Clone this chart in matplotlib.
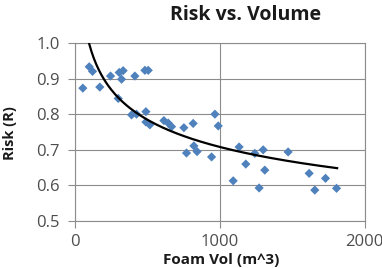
import numpy as np
import matplotlib
matplotlib.use('Agg')
import matplotlib.pyplot as plt

# foam volume (m^3) and risk readings
foam_vol = [55, 99, 122, 172, 246, 306, 333, 322, 414, 483, 506,
            299, 391, 425, 490, 490, 517, 614, 644, 667, 752, 816,
            966, 989, 770, 821, 843, 943, 1092, 1133, 1179, 1241,
            1271, 1299, 1310, 1471, 1616, 1655, 1729, 1805]
risk = [0.873, 0.933, 0.920, 0.876, 0.907, 0.917, 0.922, 0.898, 0.907, 0.923, 0.923,
        0.844, 0.798, 0.800, 0.807, 0.778, 0.770, 0.782, 0.775, 0.765, 0.762, 0.774,
        0.800, 0.767, 0.691, 0.711, 0.695, 0.680, 0.613, 0.708, 0.660, 0.690,
        0.593, 0.700, 0.643, 0.694, 0.634, 0.587, 0.620, 0.592]

# power trendline R = a * V^b (as shown on the chart)
trend_a = 1.968
trend_b = -0.148
trend_range = [97, 1809]

plt.rcParams['font.family'] = ['Open Sans', 'DejaVu Sans']

fig = plt.figure(figsize=(3.82, 2.68), dpi=100)
ax = fig.add_axes([0.196, 0.175, 0.759, 0.665])

grid_col = '#8c8c8c'
ax.scatter(foam_vol, risk, marker='D', s=22, color='#4f81bd', edgecolors='none', zorder=3)

xs = np.linspace(trend_range[0], trend_range[1], 200)
ax.plot(xs, trend_a * xs ** trend_b, color='black', lw=1.6, zorder=4)

ax.set_xlim(0, 2000)
ax.set_ylim(0.5, 1.0)
ax.set_xticks([0, 1000, 2000])
ax.set_yticks([0.5, 0.6, 0.7, 0.8, 0.9, 1.0])
ax.set_yticklabels(['0.5', '0.6', '0.7', '0.8', '0.9', '1.0'])
ax.grid(True, color=grid_col, lw=0.8)
ax.set_axisbelow(True)
for s in ax.spines.values():
    s.set_color(grid_col)
    s.set_linewidth(0.8)
ax.tick_params(colors=grid_col, labelcolor='#4d4d4d', labelsize=12, length=5, width=0.8)
ax.tick_params(axis='y', pad=6)
ax.tick_params(axis='x', pad=4)

fig.text(245.5 / 382, 1 - 15 / 268, 'Risk vs. Volume', fontsize=14, fontweight='bold',
         color='#1a1a1a', ha='center', va='center')
ax.set_xlabel('Foam Vol (m^3)', fontsize=11, fontweight='bold', color='#1a1a1a')
ax.xaxis.set_label_coords(0.503, -0.178)
ax.set_ylabel('Risk (R)', fontsize=10.5, fontweight='bold', color='#1a1a1a')
ax.yaxis.set_label_coords(-0.2, 0.494)

fig.savefig('out.png', dpi=100)
